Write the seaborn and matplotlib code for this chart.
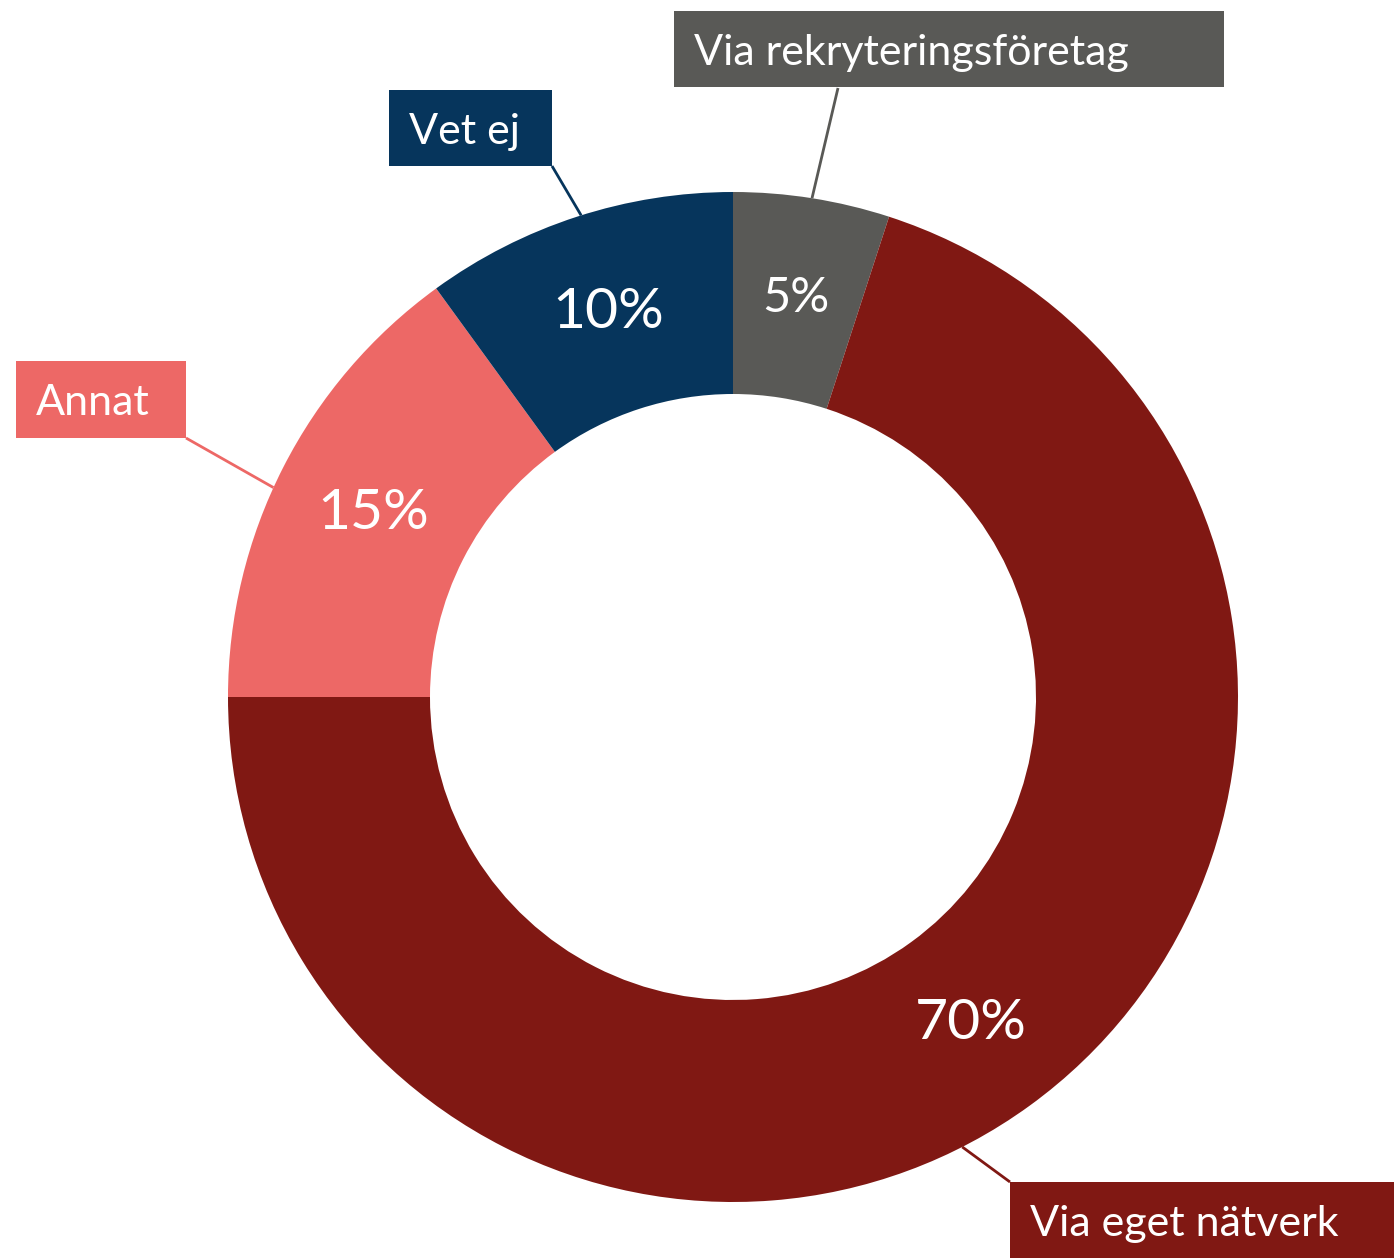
import numpy as np
import matplotlib
matplotlib.use("Agg")
import matplotlib.pyplot as plt
from matplotlib.patches import Rectangle
import seaborn as sns

# Survey answers, clockwise from 12 o'clock
categories = ["Via rekryteringsföretag", "Via eget nätverk", "Annat", "Vet ej"]
shares = [5, 70, 15, 10]
colors = ["#595956", "#801813", "#ED6866", "#06355C"]

sns.set_theme(style="white")
plt.rcParams["font.family"] = ["Lato", "DejaVu Sans"]

W, H = 1394, 1258
fig = plt.figure(figsize=(W / 100, H / 100), dpi=100)
ax = fig.add_axes([0, 0, 1, 1])

# layout in pixel units (y measured from the top)
cx, cy = 733, 697
R, ring = 505, 202


def to_xy(px, py):
    return px, H - py


wedges, _, autotexts = ax.pie(
    shares,
    colors=colors,
    startangle=90,
    counterclock=False,
    radius=R,
    center=to_xy(cx, cy),
    wedgeprops=dict(width=ring, linewidth=0),
    autopct=lambda p: f"{p:.0f}%",
    pctdistance=0.8,
    textprops=dict(color="white", fontsize=41),
)
autotexts[0].set_fontsize(35)

ax.set_xlim(0, W)
ax.set_ylim(0, H)
ax.set_aspect("equal")
ax.axis("off")

# label boxes: (left, top, width, height), leader start, leader angle tweak
boxes = [
    ((674, 11, 550, 76), (838, 88), 0.0),
    ((1010, 1182, 400, 76), (1010, 1182), 9.0),
    ((16, 361, 170, 77), (186, 438), -2.5),
    ((389, 90, 163, 76), (552, 166), 0.5),
]

cum = np.cumsum([0] + shares)
total = sum(shares)
for i, (name, col) in enumerate(zip(categories, colors)):
    (bx, by, bw, bh), (lx, ly), tweak = boxes[i]
    x0, y0 = to_xy(bx, by + bh)
    ax.add_patch(Rectangle((x0, y0), bw, bh, facecolor=col, edgecolor="none",
                           zorder=3, clip_on=False))
    tx, ty = to_xy(bx + 20, by + 54)
    ax.text(tx, ty, name, color="white", fontsize=31, ha="left",
            va="baseline", zorder=4)
    mid = (cum[i] + cum[i + 1]) / 2 / total * 360 + tweak
    ex = cx + R * np.sin(np.radians(mid))
    ey = cy - R * np.cos(np.radians(mid))
    sx, sy = to_xy(lx, ly)
    px, py = to_xy(ex, ey)
    ax.plot([sx, px], [sy, py], color=col, linewidth=2, zorder=2,
            solid_capstyle="butt")

fig.savefig("out.png", dpi=100, facecolor="white")
